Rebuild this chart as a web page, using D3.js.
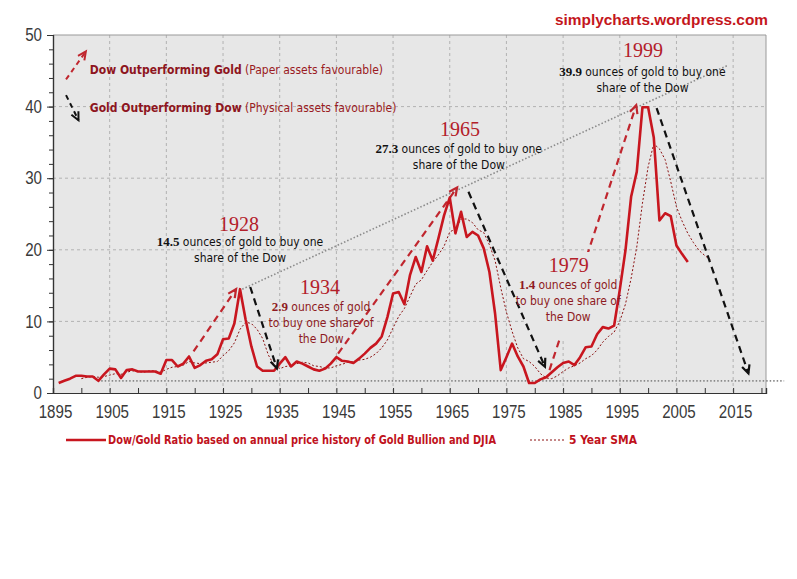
<!DOCTYPE html>
<html><head><meta charset="utf-8">
<script src="https://cdn.jsdelivr.net/npm/d3@7/dist/d3.min.js"></script>
<style>body{margin:0;background:#fff;overflow:hidden}</style>
</head><body>
<svg id="c" width="797" height="579"></svg>
<script>
// ---------- DATA ----------
const firstYear = 1896;
const ratio = [
 1.4,1.7,2.0,2.4,2.4,2.3,2.3,1.7,2.6,3.4, // 1896-1905
 3.3,2.1,3.2,3.3,3.0,3.0,3.0,3.0,2.7,4.6, // 1906-1915
 4.6,3.7,4.1,5.1,3.5,3.9,4.5,4.7,5.4,7.5, // 1916-1925
 7.6,9.7,14.5,10.2,6.5,3.7,3.1,3.1,3.1,4.1, // 1926-1935
 5.0,3.7,4.4,4.1,3.7,3.3,3.1,3.4,4.1,5.0, // 1936-1945
 4.5,4.4,4.2,4.8,5.5,6.3,6.9,7.9,10.6,13.9, // 1946-1955
 14.1,12.4,16.5,19.0,16.9,20.5,18.5,21.6,24.8,27.3, // 1956-1965
 22.3,25.3,21.8,22.5,22.0,20.2,16.9,11.1,3.2,5.0, // 1966-1975
 6.9,5.1,3.7,1.4,1.4,1.9,2.2,2.9,3.6,4.2, // 1976-1985
 4.4,3.9,5.0,6.4,6.5,8.2,9.2,9.0,9.4,14.4, // 1986-1995
 19.9,27.4,30.9,39.9,39.9,35.7,24.1,25.1,24.7,20.6, // 1996-2005
 19.4,18.3 // 2006-2007
];
const years = ratio.map((_, i) => firstYear + i);

const smaFirstYear = 1900;
const sma = [
 2.0,2.2,2.3,2.2,2.3,2.5,2.7,2.6,2.9,3.1, // 1900-1909
 3.0,2.9,3.1,3.1,2.9,3.3,3.6,3.7,3.9,4.4, // 1910-1919
 4.2,4.1,4.2,4.3,4.4,5.2,5.9,7.0,8.9,9.9, // 1920-1929
 9.7,8.9,7.6,5.3,3.9,3.4,3.7,3.8,4.1,4.3, // 1930-1939
 4.2,3.8,3.7,3.5,3.5,3.8,4.0,4.3,4.4,4.6, // 1940-1949
 4.7,5.0,5.5,6.3,7.4,9.1,10.7,11.8,13.5,15.2, // 1950-1959
 15.8,17.1,18.3,19.3,20.5,22.5,22.9,24.3,24.3,23.8, // 1960-1969
 22.8,22.4,20.7,18.5,14.7,11.3,8.6,6.3,4.8,4.4, // 1970-1979
 3.7,2.7,2.1,2.0,2.4,3.0,3.5,3.8,4.2,4.8, // 1980-1989
 5.2,6.0,7.1,7.9,8.5,10.0,12.4,16.0,20.4,26.5, // 1990-1999
 31.6,34.8,34.1,32.6,29.5,26.0,24.0,22.3,21.0,19.9, // 2000-2009
 19.2,18.6 // 2010-2011
];
const smaYears = sma.map((_, i) => smaFirstYear + i);

const yTicks = [0, 10, 20, 30, 40, 50];
const xTickLabels = [1895,1905,1915,1925,1935,1945,1955,1965,1975,1985,1995,2005,2015];

// annotation arrows (data coordinates: [year, ratio])
const upArrows = [
  {from:[1919.8, 5.8], to:[1927.3, 14.5]},
  {from:[1945.3, 5.5], to:[1966.3, 28.7]},
  {from:[1982.6, 3.2], to:[1997.9, 40.2]}
];
const downArrows = [
  {from:[1929.8, 14.8], to:[1934.5, 3.45]},
  {from:[1968.3, 28.1], to:[1981.8, 3.67]},
  {from:[2001.5, 39.8], to:[2017.7, 2.75]}
];
const trendLine = [[1928.4, 14.5], [2013.9, 45.7]];
const floorLine = [[1903.5, 1.7], [2024, 1.7]];

const peakLabels = [
  {year:"1928", at:[1927.8, 22.6], num:"14.5", lines:["ounces of gold to buy one","share of the Dow"], cx:1928.0, base:20.5, dark:true},
  {year:"1934", at:[1942.1, 13.8], num:"2.9", lines:["ounces of gold","to buy one share of","the Dow"], cx:1942.3, base:11.4, dark:false},
  {year:"1965", at:[1966.8, 35.9], num:"27.3", lines:["ounces of gold to buy one","share of the Dow"], cx:1966.6, base:33.5, dark:true},
  {year:"1979", at:[1986.0, 16.9], num:"1.4", lines:["ounces of gold","to buy one share of","the Dow"], cx:1985.9, base:14.5, dark:false, box:true},
  {year:"1999", at:[1999.1, 46.9], num:"39.9", lines:["ounces of gold to buy one","share of the Dow"], cx:1999.0, base:44.3, dark:true}
];

// ---------- CHART ----------
const svg = d3.select("#c");
const X0 = 53, X1 = 766, Y0 = 393, Y1 = 35;
const x = d3.scaleLinear().domain([1895, 2020.8]).range([X0, X1]);
const y = d3.scaleLinear().domain([0, 50]).range([Y0, Y1]);

const RED = "#c8161f", DARKRED = "#9a1a22", BLACK = "#111";
const annFont = "'DejaVu Sans Condensed','DejaVu Sans',sans-serif";
const serif = "'Liberation Serif','DejaVu Serif',serif";
const axisFont = "'Liberation Sans',Arial,sans-serif";
const legendFont = "'DejaVu Sans Condensed','DejaVu Sans',sans-serif";

const gBg = svg.append("g"), gGrid = svg.append("g"), gRed = svg.append("g"),
      gBox = svg.append("g"), gData = svg.append("g"), gBlack = svg.append("g"),
      gAxes = svg.append("g"), gText = svg.append("g");

gBg.append("rect").attr("x", X0).attr("y", Y1).attr("width", X1 - X0).attr("height", Y0 - Y1).attr("fill", "#e7e7e7");

// grid
gGrid.selectAll("line.v").data(xTickLabels.slice(1)).join("line")
  .attr("x1", d => x(d)).attr("x2", d => x(d)).attr("y1", Y1).attr("y2", Y0)
  .attr("stroke", "#b2b2b2").attr("stroke-dasharray", "3,3");
gGrid.selectAll("line.h").data(yTicks.slice(1, -1)).join("line")
  .attr("x1", X0).attr("x2", X1).attr("y1", d => y(d)).attr("y2", d => y(d))
  .attr("stroke", "#b2b2b2").attr("stroke-dasharray", "3,3");
gGrid.append("line").attr("x1", X0).attr("x2", X1).attr("y1", Y1).attr("y2", Y1).attr("stroke", "#999");
gGrid.append("line").attr("x1", X1).attr("x2", X1).attr("y1", Y1).attr("y2", Y0).attr("stroke", "#999");

// trend + floor dotted lines
const lineGen = d3.line().x(d => x(d[0])).y(d => y(d[1]));
gGrid.append("path").attr("d", lineGen(trendLine)).attr("fill", "none")
  .attr("stroke", "#8a8a8a").attr("stroke-width", 1.6).attr("stroke-dasharray", "1.5,2");
gGrid.append("path").attr("d", lineGen(floorLine)).attr("fill", "none")
  .attr("stroke", "#8a8a8a").attr("stroke-width", 1.6).attr("stroke-dasharray", "1.5,2");

function arrow(g, a, color, dash, w) {
  const x1 = x(a.from[0]), y1 = y(a.from[1]), x2 = x(a.to[0]), y2 = y(a.to[1]);
  g.append("line").attr("x1", x1).attr("y1", y1).attr("x2", x2).attr("y2", y2)
    .attr("stroke", color).attr("stroke-width", w).attr("stroke-dasharray", dash);
  const ang = Math.atan2(y2 - y1, x2 - x1), L = 9, s = 0.45;
  const p1 = [x2 - L * Math.cos(ang - s), y2 - L * Math.sin(ang - s)];
  const p2 = [x2 - L * Math.cos(ang + s), y2 - L * Math.sin(ang + s)];
  g.append("path").attr("d", `M${p1[0]},${p1[1]}L${x2},${y2}L${p2[0]},${p2[1]}`)
    .attr("fill", "none").attr("stroke", color).attr("stroke-width", w);
}
upArrows.forEach(a => arrow(gRed, a, "#c0262e", "7,5", 2.2));
downArrows.forEach(a => arrow(gBlack, a, BLACK, "7,5", 2.2));

// key arrows top-left
arrow(gRed, {from:[1897.3, 43.8], to:[1900.8, 47.7]}, "#c0262e", "5,4", 2);
arrow(gBlack, {from:[1897.3, 41.6], to:[1899.5, 38.1]}, BLACK, "5,4", 2);

// data lines
const dl = d3.line().x(d => x(d[0])).y(d => y(d[1]));
gData.append("path").attr("d", dl(smaYears.map((yr, i) => [yr, sma[i]])))
  .attr("fill", "none").attr("stroke", "#8b1010").attr("stroke-width", 1).attr("stroke-dasharray", "2,2");
gData.append("path").attr("d", dl(years.map((yr, i) => [yr, ratio[i]])))
  .attr("fill", "none").attr("stroke", RED).attr("stroke-width", 2.6).attr("stroke-linejoin", "round");

// axes
const yAxis = d3.axisLeft(y).tickValues(yTicks).tickSize(6).tickPadding(5);
const ya = gAxes.append("g").attr("transform", `translate(${X0},0)`).call(yAxis);
const yMinor = d3.axisLeft(y).tickValues(d3.range(0, 51, 2)).tickSize(4).tickFormat("");
gAxes.append("g").attr("transform", `translate(${X0},0)`).call(yMinor);
const xAxis = d3.axisBottom(x).tickValues(xTickLabels).tickSize(-5).tickPadding(13).tickFormat(d3.format("d"));
const xa = gAxes.append("g").attr("transform", `translate(0,${Y0})`).call(xAxis);
const xMinor = d3.axisBottom(x).tickValues(d3.range(1900, 2021, 10)).tickSize(-5).tickFormat("");
gAxes.append("g").attr("transform", `translate(0,${Y0})`).call(xMinor);
gAxes.selectAll(".domain").attr("stroke", "#333").attr("stroke-width", 1.2);
gAxes.selectAll(".tick line").attr("stroke", "#333");
[ya, xa].forEach(a => a.selectAll("text")
  .attr("font-family", axisFont).attr("font-size", 17.5).attr("fill", "#3a3a3a")
  .attr("textLength", function() { return this.textContent.length * 8.4; })
  .attr("lengthAdjust", "spacingAndGlyphs"));
xa.selectAll("text").attr("dx", 2);

// title
gText.append("text").attr("x", 768).attr("y", 25).attr("text-anchor", "end")
  .attr("font-family", "'Liberation Sans',Arial,sans-serif").attr("font-weight", "bold")
  .attr("font-size", 15.4).attr("fill", "#c4161c").text("simplycharts.wordpress.com");

// key text top-left
const key = [
  {bold:"Dow Outperforming Gold", rest:" (Paper assets favourable)", v:[1901.5, 44.5]},
  {bold:"Gold Outperforming Dow", rest:" (Physical assets favourable)", v:[1901.5, 39.3]}
];
key.forEach(k => {
  const t = gText.append("text").attr("x", x(k.v[0])).attr("y", y(k.v[1]))
    .attr("font-family", annFont).attr("font-size", 12).attr("fill", DARKRED);
  t.append("tspan").attr("font-weight", "bold").attr("fill", "#8e1520").text(k.bold);
  t.append("tspan").text(k.rest);
});

// peak labels
peakLabels.forEach(p => {
  const g = gText.append("g");
  g.append("text").attr("x", x(p.at[0])).attr("y", y(p.at[1])).attr("text-anchor", "middle")
    .attr("font-family", serif).attr("font-size", 20).attr("fill", "#b3202a").text(p.year);
  const col = p.dark ? BLACK : "#8e1a22";
  p.lines.forEach((ln, i) => {
    const t = g.append("text").attr("x", x(p.cx)).attr("y", y(p.base) + i * 16)
      .attr("text-anchor", "middle").attr("font-family", annFont).attr("font-size", 12).attr("fill", col);
    if (i === 0) {
      t.append("tspan").attr("font-family", serif).attr("font-weight", "bold").attr("font-size", 13).text(p.num + " ");
    }
    t.append("tspan").text(ln);
  });
  if (p.box) {
    const b = g.node().getBBox();
    gBox.append("rect").attr("x", b.x + 8).attr("y", b.y - 2).attr("width", b.width - 14).attr("height", b.height + 16)
      .attr("fill", "#e7e7e7");
  }
});

// bottom legend
const lg = gText.append("g");
lg.append("line").attr("x1", 66).attr("x2", 106).attr("y1", 440).attr("y2", 440).attr("stroke", RED).attr("stroke-width", 2.6);
lg.append("text").attr("x", 108).attr("y", 444).attr("font-family", legendFont).attr("font-weight", "bold")
  .attr("font-size", 12).attr("fill", "#c0121c").attr("textLength", 388).attr("lengthAdjust", "spacingAndGlyphs")
  .text("Dow/Gold Ratio based on annual price history of Gold Bullion and DJIA");
lg.append("line").attr("x1", 530).attr("x2", 566).attr("y1", 440).attr("y2", 440).attr("stroke", "#8b1010")
  .attr("stroke-width", 1).attr("stroke-dasharray", "2,2");
lg.append("text").attr("x", 569).attr("y", 444).attr("font-family", legendFont).attr("font-weight", "bold")
  .attr("font-size", 12).attr("fill", "#c0121c").attr("textLength", 68).attr("lengthAdjust", "spacingAndGlyphs")
  .text("5 Year SMA");
</script>
</body></html>
